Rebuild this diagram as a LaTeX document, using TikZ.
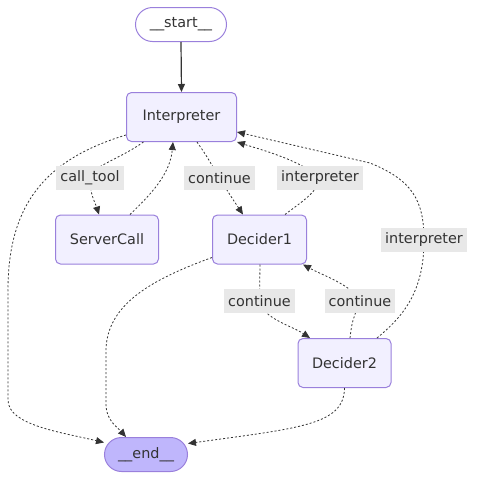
\documentclass[tikz,border=0pt]{standalone}
\usepackage{fontspec}
\setmainfont{DejaVu Sans}
\usetikzlibrary{arrows.meta}
\definecolor{ink}{HTML}{333333}
\definecolor{boxfill}{HTML}{F2F0FF}
\definecolor{boxline}{HTML}{9A80DC}
\definecolor{endfill}{HTML}{BFB6FC}
\definecolor{lblfill}{HTML}{E8E8E8}
\begin{document}
\begin{tikzpicture}[x=1pt,y=-1pt,font=\fontsize{14.4}{17}\selectfont,
 box/.style={draw=boxline,fill=boxfill,text=ink,line width=1pt,rounded corners=5pt,minimum height=49pt,inner sep=0pt},
 termbox/.style={draw=boxline,text=ink,line width=1pt,rounded corners=17pt,minimum height=34pt,inner sep=0pt},
 lbl/.style={fill=lblfill,text=ink,minimum height=24pt,inner xsep=4pt,inner ysep=0pt},
 flow/.style={ink,line width=0.8pt,dash pattern=on 2pt off 2pt,-{Triangle[length=8pt,width=7pt]}},
 solidflow/.style={ink,line width=1.2pt,-{Triangle[length=8pt,width=7pt]}}]
 \useasboundingbox (0,0) rectangle (477,480);
 \node[termbox,minimum width=91pt] (start) at (181,24.5) {\_\_start\_\_};
 \node[box,minimum width=110pt] (interp) at (181.5,117) {Interpreter};
 \node[box,minimum width=103pt] (server) at (107,239.5) {ServerCall};
 \node[box,minimum width=94pt] (dec1) at (259.5,239.5) {Decider1};
 \node[box,minimum width=93pt] (dec2) at (344.5,363) {Decider2};
 \node[termbox,fill=endfill,minimum width=83pt] (fin) at (146,454.5) {\_\_end\_\_};
 \coordinate (cCall) at (90,178); \coordinate (cCont1) at (219.5,178);
 \coordinate (cInt1) at (320,178); \coordinate (cInt2) at (424,240);
 \coordinate (cCont2) at (259.5,301); \coordinate (cCont3) at (360,301);
 \draw[solidflow] (start.south) -- (interp.north);
 \draw[flow] ([xshift=-38pt]interp.south) .. controls (118,160) and (92,166) .. (cCall)
   .. controls (89,192) and (96,205) .. ([xshift=-8pt]server.north);
 \draw[flow] ([xshift=23pt]server.north) .. controls (150,195) and (170,175) .. ([xshift=-8.5pt]interp.south);
 \draw[flow] ([xshift=15.5pt]interp.south) .. controls (206,155) .. (cCont1)
   .. controls (230,195) .. ([xshift=-16.5pt]dec1.north);
 \draw[flow] ([xshift=25.5pt]dec1.north) .. controls (300,203) and (318,192) .. (cInt1)
   .. controls (300,160) and (262,150) .. (interp.south east);
 \draw[flow] ([xshift=32.5pt]dec2.north) .. controls (405,315) and (424,290) .. (cInt2)
   .. controls (424,200) and (412,180) .. (370,163) -- ([yshift=-15pt]interp.east);
 \draw[flow] ([xshift=0.5pt]dec1.south) -- (cCont2)
   .. controls (262,318) and (292,326) .. ([xshift=-34.5pt]dec2.north);
 \draw[flow] ([xshift=5.5pt]dec2.north) .. controls (352,322) .. (cCont3)
   .. controls (352,285) and (322,275) .. ([xshift=-4pt]dec1.south east);
 \draw[flow] ([yshift=-18pt]interp.west) .. controls (50,158) and (8,200) .. (8,290) -- (8,400)
   .. controls (8,425) and (60,432) .. ([yshift=12pt]fin.west);
 \draw[flow] ([yshift=-18pt]dec1.west) .. controls (150,280) and (107,305) .. (106,350) -- (106,405)
   .. controls (106,420) and (118,428) .. ([xshift=-20pt]fin.north);
 \draw[flow] (dec2.south) .. controls (344,425) and (300,428) .. ([yshift=11pt]fin.east);
 \node[lbl] (lCall) at (cCall) {call\_tool};
 \node[lbl] (lCont1) at (cCont1) {continue};
 \node[lbl] (lInt1) at (cInt1) {interpreter};
 \node[lbl] (lInt2) at (cInt2) {interpreter};
 \node[lbl] (lCont2) at (cCont2) {continue};
 \node[lbl] (lCont3) at (cCont3) {continue};
\end{tikzpicture}
\end{document}
